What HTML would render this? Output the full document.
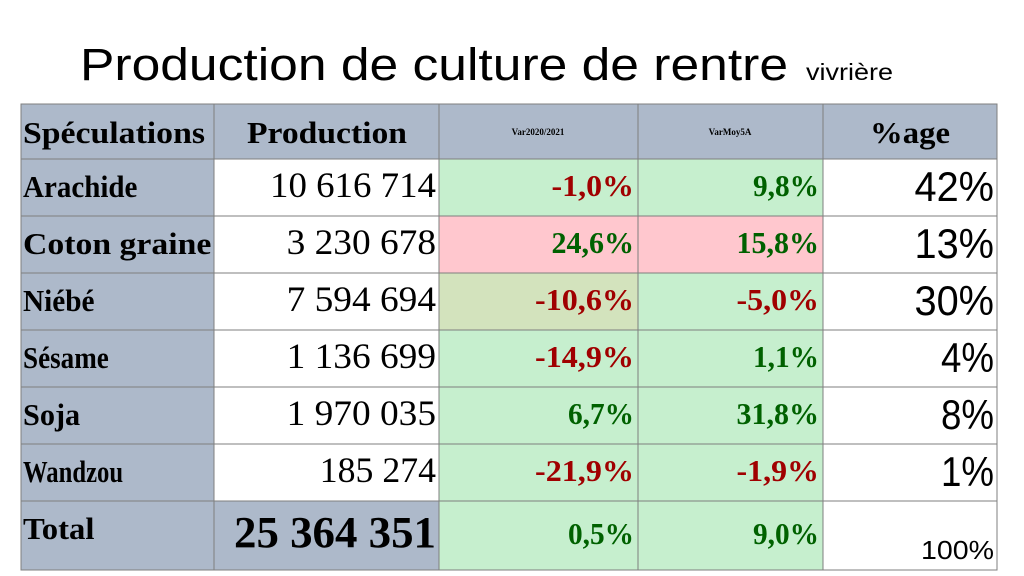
<!DOCTYPE html>
<html><head><meta charset="utf-8"><style>
html,body{margin:0;padding:0;background:#fff;width:1024px;height:576px;overflow:hidden}
svg{display:block}
</style></head><body>
<svg id="tbl" width="1024" height="576" xmlns="http://www.w3.org/2000/svg">
<text x="80" y="80" font-family="Liberation Sans, sans-serif" font-size="45" textLength="708" lengthAdjust="spacingAndGlyphs">Production de culture de rentre</text>
<text x="806" y="80" font-family="Liberation Sans, sans-serif" font-size="23" textLength="87" lengthAdjust="spacingAndGlyphs">vivrière</text>
<g id="cells"></g>
</svg>
<script>
const names = ["Arachide","Coton graine","Niébé","Sésame","Soja","Wandzou","Total"];
const production = ["10 616 714","3 230 678","7 594 694","1 136 699","1 970 035","185 274","25 364 351"];
const var2021 = [-1.0,24.6,-10.6,-14.9,6.7,-21.9,0.5];
const varMoy = [9.8,15.8,-5.0,1.1,31.8,-1.9,9.0];
const shares = ["42%","13%","30%","4%","8%","1%","100%"];
const headers = ["Spéculations","Production","Var2020/2021","VarMoy5A","%age"];

const NS="http://www.w3.org/2000/svg";
const g=document.getElementById('cells');
const colX=[21,214,439,638,823,997];
const rowY=[104,159,216,273,330,387,444,501,570];
const GRAY="#adb9ca", GREEN="#c6efce", PINK="#ffc7ce", OLIVE="#d3e3bd";
function rect(x,y,w,h,fill,name){
  const r=document.createElementNS(NS,'rect');
  r.setAttribute('x',x);r.setAttribute('y',y);r.setAttribute('width',w);r.setAttribute('height',h);
  r.setAttribute('fill',fill);r.setAttribute('stroke','#7f7f7f');r.setAttribute('stroke-width','1');
  
  
  g.appendChild(r);return r;
}
function text(x,y,s,opt,name){
  const t=document.createElementNS(NS,'text');
  t.setAttribute('x',x);t.setAttribute('y',y);
  t.setAttribute('font-family',opt.sans?'Liberation Sans, sans-serif':'Liberation Serif, serif');
  t.setAttribute('font-size',opt.size);
  if(opt.bold)t.setAttribute('font-weight','bold');
  t.setAttribute('fill',opt.fill||'#000');
  t.setAttribute('text-anchor',opt.anchor||'start');
  if(opt.len){t.setAttribute('textLength',opt.len);t.setAttribute('lengthAdjust','spacingAndGlyphs');}
  t.textContent=s;
  
  
  g.appendChild(t);return t;
}
function fmt(v){return v.toFixed(1).replace('.',',')+'%';}
// header
for(let c=0;c<5;c++) rect(colX[c],rowY[0],colX[c+1]-colX[c],rowY[1]-rowY[0],GRAY,'header-cell');
text(23,143,headers[0],{size:31,bold:true,len:182},'header-speculations');
text(327,143,headers[1],{size:31,bold:true,anchor:'middle',len:160},'header-production');
text(538,135,headers[2],{size:9,bold:true,anchor:'middle'},'header-var2020-2021');
text(730,135,headers[3],{size:9,bold:true,anchor:'middle'},'header-varmoy5a');
text(910,143,headers[4],{size:31,bold:true,anchor:'middle',len:80},'header-percentage');
// rows
for(let i=0;i<names.length;i++){
  const y0=rowY[i+1], h=rowY[i+2]-y0, total=i===names.length-1;
  const base=total? y0+46 : y0+40;
  rect(colX[0],y0,colX[1]-colX[0],h,GRAY,'name-cell');
  rect(colX[1],y0,colX[2]-colX[1],h,total?GRAY:'#fff','production-cell');
  const v1=var2021[i], v2=varMoy[i];
  let f1=GREEN,f2=GREEN;
  if(i===1){f1=PINK;f2=PINK;}
  if(i===2){f1=OLIVE;}
  rect(colX[2],y0,colX[3]-colX[2],h,f1,'var2020-cell');
  rect(colX[3],y0,colX[4]-colX[3],h,f2,'varmoy-cell');
  rect(colX[4],y0,colX[5]-colX[4],h,'#fff','share-cell');
  text(23,y0+38,names[i],{size:31,bold:true,len:names[i].length*(i===1?15.7:14.3)},'crop-name');
  if(total) text(436,base,production[i],{size:44,bold:true,anchor:'end',len:202},'total-production');
  else text(436,base-2,production[i],{size:36,anchor:'end',len:production[i].length*16.6},'production-value');
  const c1=(v1<0||i===1)?(v1<0?'#a00000':'#006100'):'#006100';
  text(634,base-3,fmt(v1),{size:31,bold:true,anchor:'end',fill:v1<0?'#a00000':'#006100',len:fmt(v1).length*16.5},'var2020-value');
  text(819,base-3,fmt(v2),{size:31,bold:true,anchor:'end',fill:v2<0?'#a00000':'#006100',len:fmt(v2).length*16.5},'varmoy-value');
  if(total) text(994,base+12,shares[i],{size:26,sans:true,anchor:'end',len:73},'share-value');
  else text(994,base+2,shares[i],{size:42,sans:true,anchor:'end',len:shares[i].length*26.5},'share-value');
}
</script>
</body></html>
